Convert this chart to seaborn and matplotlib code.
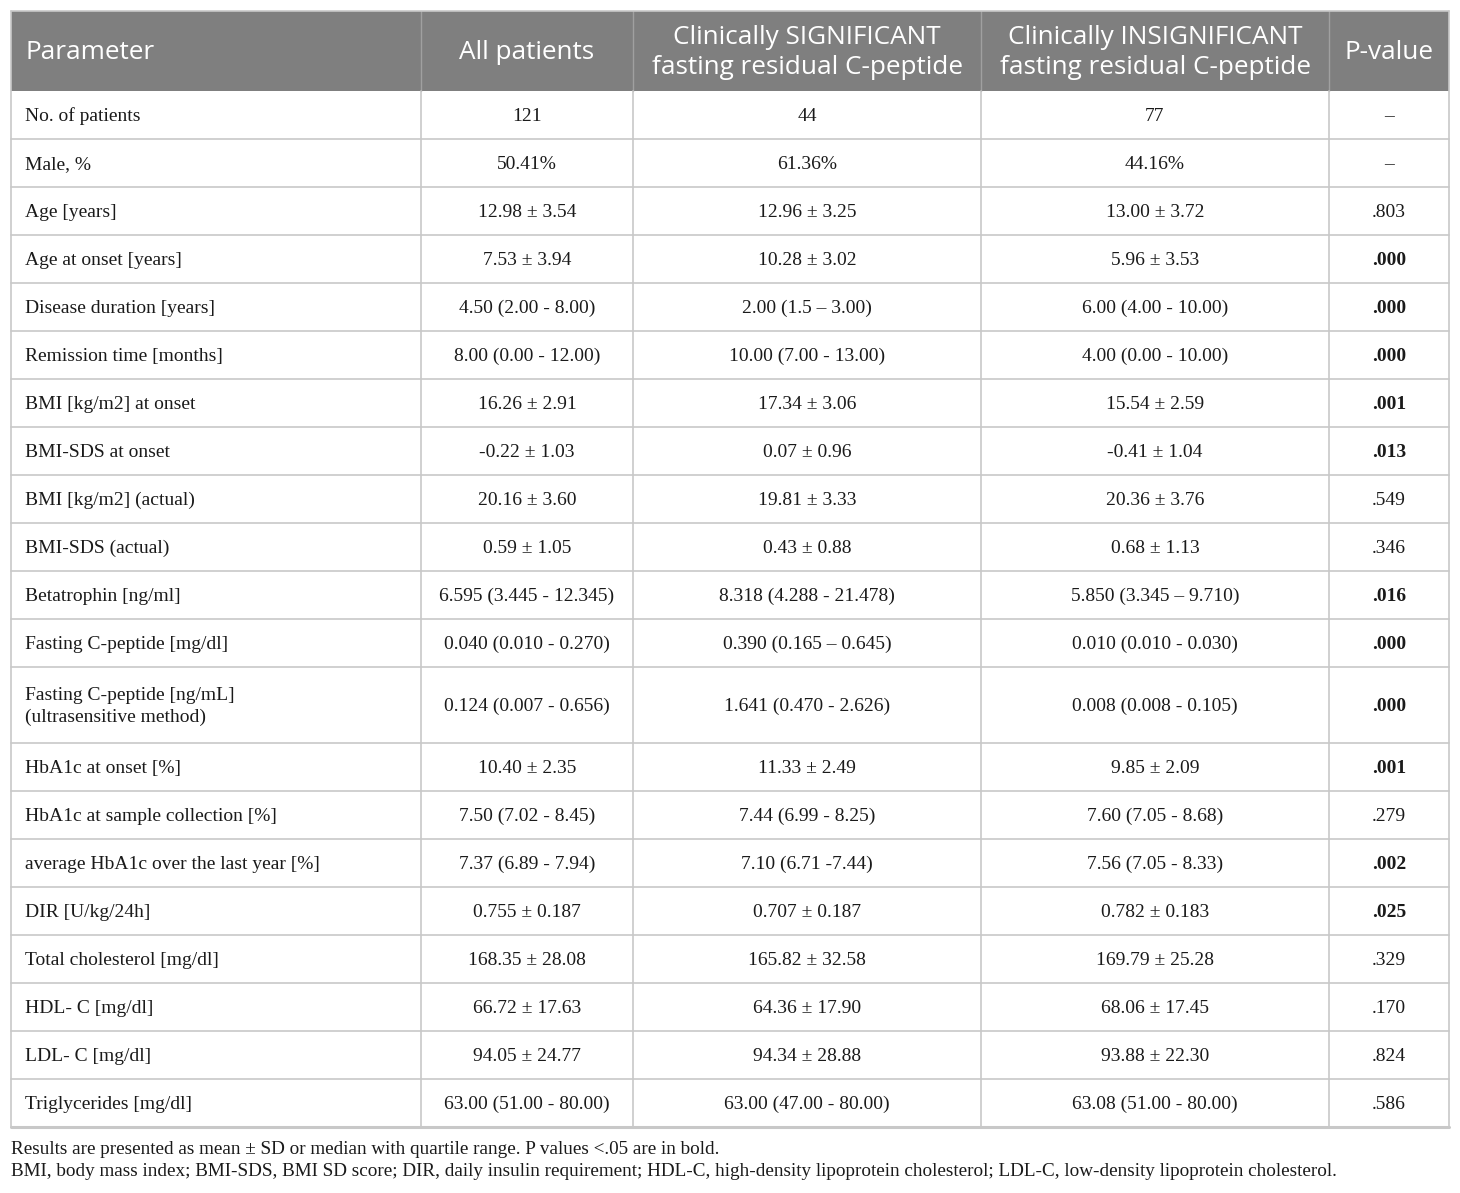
import matplotlib
matplotlib.use("Agg")
import matplotlib.pyplot as plt
import seaborn as sns
from matplotlib.patches import Rectangle

sns.set_theme(style="white")
plt.rcParams['font.family'] = ['Liberation Serif', 'DejaVu Serif']

# ---------------- data ----------------
headers = ["Parameter", "All patients",
           "Clinically SIGNIFICANT\nfasting residual C-peptide",
           "Clinically INSIGNIFICANT\nfasting residual C-peptide",
           "P-value"]

parameters = [
    "No. of patients", "Male, %", "Age [years]", "Age at onset [years]",
    "Disease duration [years]", "Remission time [months]",
    "BMI [kg/m2] at onset", "BMI-SDS at onset", "BMI [kg/m2] (actual)",
    "BMI-SDS (actual)", "Betatrophin [ng/ml]", "Fasting C-peptide [mg/dl]",
    "Fasting C-peptide [ng/mL]\n(ultrasensitive method)", "HbA1c at onset [%]",
    "HbA1c at sample collection [%]", "average HbA1c over the last year [%]",
    "DIR [U/kg/24h]", "Total cholesterol [mg/dl]", "HDL- C [mg/dl]",
    "LDL- C [mg/dl]", "Triglycerides [mg/dl]",
]
all_patients = [
    "121", "50.41%", "12.98 ± 3.54", "7.53 ± 3.94", "4.50 (2.00 - 8.00)",
    "8.00 (0.00 - 12.00)", "16.26 ± 2.91", "-0.22 ± 1.03", "20.16 ± 3.60",
    "0.59 ± 1.05", "6.595 (3.445 - 12.345)", "0.040 (0.010 - 0.270)",
    "0.124 (0.007 - 0.656)", "10.40 ± 2.35", "7.50 (7.02 - 8.45)",
    "7.37 (6.89 - 7.94)", "0.755 ± 0.187", "168.35 ± 28.08", "66.72 ± 17.63",
    "94.05 ± 24.77", "63.00 (51.00 - 80.00)",
]
significant = [
    "44", "61.36%", "12.96 ± 3.25", "10.28 ± 3.02", "2.00 (1.5 – 3.00)",
    "10.00 (7.00 - 13.00)", "17.34 ± 3.06", "0.07 ± 0.96", "19.81 ± 3.33",
    "0.43 ± 0.88", "8.318 (4.288 - 21.478)", "0.390 (0.165 – 0.645)",
    "1.641 (0.470 - 2.626)", "11.33 ± 2.49", "7.44 (6.99 - 8.25)",
    "7.10 (6.71 -7.44)", "0.707 ± 0.187", "165.82 ± 32.58", "64.36 ± 17.90",
    "94.34 ± 28.88", "63.00 (47.00 - 80.00)",
]
insignificant = [
    "77", "44.16%", "13.00 ± 3.72", "5.96 ± 3.53", "6.00 (4.00 - 10.00)",
    "4.00 (0.00 - 10.00)", "15.54 ± 2.59", "-0.41 ± 1.04", "20.36 ± 3.76",
    "0.68 ± 1.13", "5.850 (3.345 – 9.710)", "0.010 (0.010 - 0.030)",
    "0.008 (0.008 - 0.105)", "9.85 ± 2.09", "7.60 (7.05 - 8.68)",
    "7.56 (7.05 - 8.33)", "0.782 ± 0.183", "169.79 ± 25.28", "68.06 ± 17.45",
    "93.88 ± 22.30", "63.08 (51.00 - 80.00)",
]
p_values = [
    "–", "–", ".803", ".000", ".000", ".000", ".001", ".013", ".549", ".346",
    ".016", ".000", ".000", ".001", ".279", ".002", ".025", ".329", ".170",
    ".824", ".586",
]
footnotes = [
    "Results are presented as mean ± SD or median with quartile range. P values <.05 are in bold.",
    "BMI, body mass index; BMI-SDS, BMI SD score; DIR, daily insulin requirement; HDL-C, high-density lipoprotein cholesterol; LDL-C, low-density lipoprotein cholesterol.",
]

# ---------------- layout ----------------
W, H = 1460, 1193
fig = plt.figure(figsize=(W / 100, H / 100), dpi=100)
ax = fig.add_axes([0, 0, 1, 1])
ax.set_xlim(0, W)
ax.set_ylim(H, 0)
ax.axis("off")

col_edges = [11, 421, 633, 981, 1329, 1449]
top, header_bottom = 11, 91
row_h = 48
tall_h = 76
row_heights = [tall_h if "\n" in p else row_h for p in parameters]
row_edges = [header_bottom]
for h in row_heights:
    row_edges.append(row_edges[-1] + h)
table_bottom = row_edges[-1]

grid_col = "#c8c8c8"
header_bg = "#7f7f7f"

# header background
ax.add_patch(Rectangle((col_edges[0], top), col_edges[-1] - col_edges[0],
                       header_bottom - top, facecolor=header_bg,
                       edgecolor="none", zorder=1))

# header texts
hfont = dict(family=['Open Sans', 'DejaVu Sans'], fontsize=18.8, color="white",
             va="center", linespacing=1.28)
hy = (top + header_bottom) / 2 + 1.5
for j, h in enumerate(headers):
    if j == 0:
        ax.text(col_edges[0] + 14, hy, h, ha="left", **hfont, zorder=3)
    else:
        cx = (col_edges[j] + col_edges[j + 1]) / 2
        ax.text(cx, hy, h, ha="center", multialignment="center", **hfont, zorder=3)

# header vertical separators
for x in col_edges[1:-1]:
    ax.plot([x, x], [top, header_bottom], color="#a0a0a0", lw=1, zorder=2)

# body grid
for y in row_edges[1:-1]:
    ax.plot([col_edges[0], col_edges[-1]], [y, y], color=grid_col, lw=1.2, zorder=2)
for x in col_edges[1:-1]:
    ax.plot([x, x], [header_bottom, table_bottom], color=grid_col, lw=1.2, zorder=2)
# outer border
ax.plot([col_edges[0], col_edges[0]], [top, table_bottom], color=grid_col, lw=1.2, zorder=2)
ax.plot([col_edges[-1], col_edges[-1]], [top, table_bottom], color=grid_col, lw=1.2, zorder=2)
ax.plot([col_edges[0], col_edges[-1]], [top, top], color=grid_col, lw=1.2, zorder=2)
ax.plot([col_edges[0], col_edges[-1]], [table_bottom, table_bottom], color=grid_col, lw=2.2, zorder=2)

# body texts
bfont = dict(fontsize=14.0, color="#1a1a1a", va="center", linespacing=1.4)
columns = [parameters, all_patients, significant, insignificant, p_values]
for i in range(len(parameters)):
    cy = (row_edges[i] + row_edges[i + 1]) / 2 + 1.5
    for j, col in enumerate(columns):
        txt = col[i]
        weight = "normal"
        if j == 4 and txt.startswith(".") and float(txt) < 0.05:
            weight = "bold"
        if j == 0:
            ax.text(col_edges[0] + 14, cy, txt, ha="left", fontweight=weight, **bfont)
        else:
            cx = (col_edges[j] + col_edges[j + 1]) / 2
            ax.text(cx, cy, txt, ha="center", fontweight=weight, **bfont)

# footnotes
ax.text(11, 1149, footnotes[0], ha="left", va="center", fontsize=13.8, color="#1a1a1a")
ax.text(11, 1172, footnotes[1], ha="left", va="center", fontsize=13.8, color="#1a1a1a")

fig.savefig("out.png", dpi=100, facecolor="white")
